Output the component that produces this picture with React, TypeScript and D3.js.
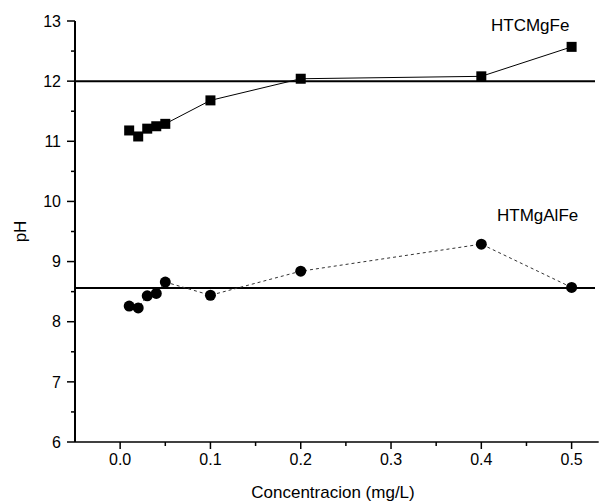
import React from "react";
import * as d3 from "d3";

const concentrations = [0.01, 0.02, 0.03, 0.04, 0.05, 0.1, 0.2, 0.4, 0.5];
const htcMgFe = [11.18, 11.08, 11.21, 11.25, 11.29, 11.68, 12.04, 12.08, 12.57];
const htMgAlFe = [8.26, 8.23, 8.43, 8.47, 8.66, 8.44, 8.84, 9.29, 8.57];
const refLines = [12.0, 8.56];
const xTicks = [0, 0.1, 0.2, 0.3, 0.4, 0.5];
const xMinor = [0.05, 0.15, 0.25, 0.35, 0.45];
const yTicks = [6, 7, 8, 9, 10, 11, 12, 13];
const yMinor = [6.5, 7.5, 8.5, 9.5, 10.5, 11.5, 12.5];

export default function App() {
  const W = 610, H = 504;
  const x = d3.scaleLinear().domain([-0.05, 0.53]).range([75, 598.7]);
  const y = d3.scaleLinear().domain([6, 13]).range([442, 21]);
  const font = "Arial, 'Liberation Sans', sans-serif";
  const pts = (vals: number[]) => concentrations.map((c, i) => [c, vals[i]] as [number, number]);
  const line = d3.line<[number, number]>().x(d => x(d[0])).y(d => y(d[1]));
  const x0 = x.range()[0], x1 = x.range()[1];
  return (
    <svg width={W} height={H} style={{ position: "absolute", left: 0, top: 0, background: "#fff" }}>
      {refLines.map((v, i) => (
        <line key={i} x1={x0} x2={595} y1={y(v)} y2={y(v)} stroke="#000" strokeWidth={2} />
      ))}
      <line x1={x0} x2={x0} y1={y(13)} y2={y(6)} stroke="#000" strokeWidth={2} />
      <line x1={x0} x2={x1} y1={y(6)} y2={y(6)} stroke="#000" strokeWidth={1.5} />
      {yTicks.map(t => (
        <g key={t}>
          <line x1={x0 - 8} x2={x0} y1={y(t)} y2={y(t)} stroke="#000" strokeWidth={1.5} />
          <text x={x0 - 14} y={y(t)} dy="0.36em" textAnchor="end" fontSize={16} fontFamily={font}>{t}</text>
        </g>
      ))}
      {yMinor.map(t => (
        <line key={t} x1={x0 - 4} x2={x0} y1={y(t)} y2={y(t)} stroke="#000" strokeWidth={1.5} />
      ))}
      {xTicks.map(t => (
        <g key={t}>
          <line x1={x(t)} x2={x(t)} y1={y(6)} y2={y(6) + 7} stroke="#000" strokeWidth={1.5} />
          <text x={x(t)} y={y(6) + 23} textAnchor="middle" fontSize={16} fontFamily={font}>{t.toFixed(1)}</text>
        </g>
      ))}
      {xMinor.map(t => (
        <line key={t} x1={x(t)} x2={x(t)} y1={y(6)} y2={y(6) + 4} stroke="#000" strokeWidth={1.5} />
      ))}
      <text x={333} y={498} textAnchor="middle" fontSize={17} fontFamily={font}>Concentracion (mg/L)</text>
      <text transform={`translate(26,${(y(6) + y(13)) / 2}) rotate(-90)`} textAnchor="middle" fontSize={17} fontFamily={font}>pH</text>
      <path d={line(pts(htcMgFe)) || ""} fill="none" stroke="#000" strokeWidth={1} />
      {pts(htcMgFe).map((d, i) => (
        <rect key={i} x={x(d[0]) - 5} y={y(d[1]) - 5} width={10} height={10} fill="#000" />
      ))}
      <path d={line(pts(htMgAlFe)) || ""} fill="none" stroke="#333" strokeWidth={1} strokeDasharray="3,3" />
      {pts(htMgAlFe).map((d, i) => (
        <circle key={i} cx={x(d[0])} cy={y(d[1])} r={5.5} fill="#000" />
      ))}
      <text x={491} y={31} fontSize={17} fontFamily={font}>HTCMgFe</text>
      <text x={497} y={221} fontSize={17} fontFamily={font}>HTMgAlFe</text>
    </svg>
  );
}
